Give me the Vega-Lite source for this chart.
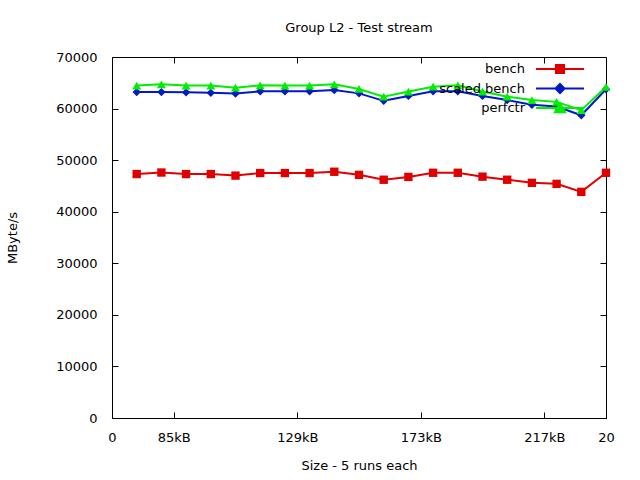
{
  "$schema": "https://vega.github.io/schema/vega-lite/v6.json",
  "autosize": "none",
  "width": 494,
  "height": 361,
  "padding": {"left": 112, "top": 57, "right": 34, "bottom": 62},
  "background": "white",
  "config": {
    "font": "DejaVu Sans",
    "view": {"stroke": "black", "strokeWidth": 1},
    "axis": {"grid": false, "domain": false, "labelFont": "DejaVu Sans", "labelFontSize": 13, "labelColor": "#000", "titleFont": "DejaVu Sans", "titleFontSize": 13, "titleFontWeight": "normal", "titleColor": "#000", "tickColor": "#000"}
  },
  "title": {"text": "Group L2 - Test stream", "font": "DejaVu Sans", "fontSize": 13, "fontWeight": "normal", "color": "#000", "anchor": "middle", "offset": 16},
  "data": {"values": [
    {"x": 1, "series": "bench", "value": 47300}, {"x": 2, "series": "bench", "value": 47600}, {"x": 3, "series": "bench", "value": 47300}, {"x": 4, "series": "bench", "value": 47300}, {"x": 5, "series": "bench", "value": 47000}, {"x": 6, "series": "bench", "value": 47500}, {"x": 7, "series": "bench", "value": 47500}, {"x": 8, "series": "bench", "value": 47500}, {"x": 9, "series": "bench", "value": 47750}, {"x": 10, "series": "bench", "value": 47150}, {"x": 11, "series": "bench", "value": 46200}, {"x": 12, "series": "bench", "value": 46750}, {"x": 13, "series": "bench", "value": 47550}, {"x": 14, "series": "bench", "value": 47550}, {"x": 15, "series": "bench", "value": 46800}, {"x": 16, "series": "bench", "value": 46200}, {"x": 17, "series": "bench", "value": 45600}, {"x": 18, "series": "bench", "value": 45400}, {"x": 19, "series": "bench", "value": 43850}, {"x": 20, "series": "bench", "value": 47550},
    {"x": 1, "series": "scaled bench", "value": 63200}, {"x": 2, "series": "scaled bench", "value": 63200}, {"x": 3, "series": "scaled bench", "value": 63150}, {"x": 4, "series": "scaled bench", "value": 63050}, {"x": 5, "series": "scaled bench", "value": 62900}, {"x": 6, "series": "scaled bench", "value": 63350}, {"x": 7, "series": "scaled bench", "value": 63350}, {"x": 8, "series": "scaled bench", "value": 63350}, {"x": 9, "series": "scaled bench", "value": 63600}, {"x": 10, "series": "scaled bench", "value": 62950}, {"x": 11, "series": "scaled bench", "value": 61500}, {"x": 12, "series": "scaled bench", "value": 62450}, {"x": 13, "series": "scaled bench", "value": 63350}, {"x": 14, "series": "scaled bench", "value": 63350}, {"x": 15, "series": "scaled bench", "value": 62450}, {"x": 16, "series": "scaled bench", "value": 61650}, {"x": 17, "series": "scaled bench", "value": 60750}, {"x": 18, "series": "scaled bench", "value": 60400}, {"x": 19, "series": "scaled bench", "value": 58700}, {"x": 20, "series": "scaled bench", "value": 63750},
    {"x": 1, "series": "perfctr", "value": 64450}, {"x": 2, "series": "perfctr", "value": 64700}, {"x": 3, "series": "perfctr", "value": 64450}, {"x": 4, "series": "perfctr", "value": 64450}, {"x": 5, "series": "perfctr", "value": 64050}, {"x": 6, "series": "perfctr", "value": 64500}, {"x": 7, "series": "perfctr", "value": 64450}, {"x": 8, "series": "perfctr", "value": 64450}, {"x": 9, "series": "perfctr", "value": 64700}, {"x": 10, "series": "perfctr", "value": 63800}, {"x": 11, "series": "perfctr", "value": 62300}, {"x": 12, "series": "perfctr", "value": 63300}, {"x": 13, "series": "perfctr", "value": 64250}, {"x": 14, "series": "perfctr", "value": 64500}, {"x": 15, "series": "perfctr", "value": 63300}, {"x": 16, "series": "perfctr", "value": 62300}, {"x": 17, "series": "perfctr", "value": 61650}, {"x": 18, "series": "perfctr", "value": 61300}, {"x": 19, "series": "perfctr", "value": 59700}, {"x": 20, "series": "perfctr", "value": 64200}
  ]},
  "resolve": {"axis": {"x": "independent", "y": "independent"}},
  "layer": [
    {
      "mark": {"type": "line", "strokeWidth": 2},
      "encoding": {
        "x": {"field": "x", "type": "quantitative", "scale": {"domain": [0, 20], "nice": false, "zero": false},
          "axis": {"orient": "bottom", "values": [0, 2.5, 7.5, 12.5, 17.5, 20], "tickSize": -6, "labelPadding": 19, "labelFlush": false, "labelOverlap": false,
            "labelExpr": "datum.value == 0 ? '0' : datum.value == 2.5 ? '85kB' : datum.value == 7.5 ? '129kB' : datum.value == 12.5 ? '173kB' : datum.value == 17.5 ? '217kB' : '20'",
            "title": "Size - 5 runs each", "titlePadding": 15}},
        "y": {"field": "value", "type": "quantitative", "scale": {"domain": [0, 70000], "nice": false},
          "axis": {"orient": "left", "values": [0, 10000, 20000, 30000, 40000, 50000, 60000, 70000], "format": "d", "tickSize": -6, "labelPadding": 21, "labelFlush": false, "labelOverlap": false, "title": "MByte/s", "titlePadding": 36}},
        "color": {"field": "series", "type": "nominal",
          "scale": {"domain": ["bench", "scaled bench", "perfctr"], "range": ["#e00000", "#0018c8", "#00ee00"]},
          "legend": {"orient": "none", "legendX": 441, "legendY": 5, "title": null, "padding": 0,
            "labelAlign": "right", "labelOffset": -42, "labelFont": "DejaVu Sans", "labelFontSize": 13, "labelColor": "#000",
            "symbolSize": 144, "symbolStrokeWidth": 2, "rowPadding": 1.5, "symbolType": "stroke",
            "encode": {"symbols": {"update": {
              "shape": {"signal": "datum.value === 'bench' ? 'M-4,0H4M-0.667,-0.667H0.667V0.667H-0.667Z' : datum.value === 'scaled bench' ? 'M-4,0H4M0,-0.75L0.75,0L0,0.75L-0.75,0Z' : 'M-4,0H4M0,-0.8L0.85,0.7L-0.85,0.7Z'"},
              "fill": {"signal": "scale('color', datum.value)"},
              "stroke": {"signal": "scale('color', datum.value)"},
              "fillOpacity": {"value": 1},
              "strokeWidth": {"value": 2}}}}}}
      }
    },
    {
      "transform": [{"filter": "datum.series === 'bench'"}],
      "mark": {"type": "point", "filled": true, "opacity": 1, "shape": "square", "size": 70},
      "encoding": {
        "x": {"field": "x", "type": "quantitative", "axis": {"orient": "top", "values": [2.5, 7.5, 12.5, 17.5], "tickSize": -6, "labels": false, "title": null}},
        "y": {"field": "value", "type": "quantitative", "axis": {"orient": "right", "values": [0, 10000, 20000, 30000, 40000, 50000, 60000, 70000], "tickSize": -6, "labels": false, "title": null}},
        "color": {"field": "series", "type": "nominal", "legend": null}
      }
    },
    {
      "transform": [{"filter": "datum.series === 'scaled bench'"}],
      "mark": {"type": "point", "filled": true, "opacity": 1, "shape": "diamond", "size": 70},
      "encoding": {
        "x": {"field": "x", "type": "quantitative", "axis": null},
        "y": {"field": "value", "type": "quantitative", "axis": null},
        "color": {"field": "series", "type": "nominal", "legend": null}
      }
    },
    {
      "transform": [{"filter": "datum.series === 'perfctr'"}],
      "mark": {"type": "point", "filled": true, "opacity": 1, "shape": "triangle-up", "size": 80},
      "encoding": {
        "x": {"field": "x", "type": "quantitative", "axis": null},
        "y": {"field": "value", "type": "quantitative", "axis": null},
        "color": {"field": "series", "type": "nominal", "legend": null}
      }
    }
  ]
}
